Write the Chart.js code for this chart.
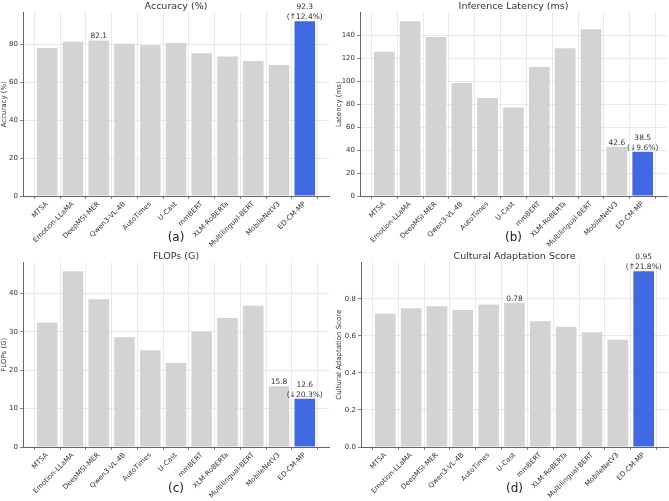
<!DOCTYPE html>
<html>
<head>
<meta charset="utf-8">
<script src="https://cdn.jsdelivr.net/npm/chart.js@4/dist/chart.umd.min.js"></script>
<style>
body { margin: 0; background: #fff; width: 669px; height: 501px; position: relative; overflow: hidden; }
.panel { position: absolute; }
</style>
</head>
<body>
<div class="panel" style="left:0;top:0;width:334px;height:250px"><canvas id="c0"></canvas></div>
<div class="panel" style="left:335px;top:0;width:334px;height:250px"><canvas id="c1"></canvas></div>
<div class="panel" style="left:0;top:250px;width:334px;height:251px"><canvas id="c2"></canvas></div>
<div class="panel" style="left:335px;top:250px;width:334px;height:251px"><canvas id="c3"></canvas></div>
<script>
const models = ['MTSA', 'Emotion-LLaMA', 'DeepMSI-MER', 'Qwen3-VL-4B', 'AutoTimes', 'U-Cast', 'mmBERT', 'XLM-RoBERTa', 'Multilingual-BERT', 'MobileNetV3', 'ED-CM-MP']
const accuracy = [78.1, 81.4, 82.1, 80.4, 79.6, 80.7, 75.4, 73.6, 71.2, 69.1, 92.3]
const latency = [125.6, 152.2, 138.5, 98.3, 85.2, 77.0, 112.3, 128.6, 145.2, 42.6, 38.5]
const flops = [32.4, 45.8, 38.5, 28.6, 25.2, 21.9, 30.1, 33.6, 36.8, 15.8, 12.6]
const cultural = [0.72, 0.75, 0.76, 0.74, 0.77, 0.78, 0.68, 0.65, 0.62, 0.58, 0.95]

const titles = ['Accuracy (%)', 'Inference Latency (ms)', 'FLOPs (G)', 'Cultural Adaptation Score']
const yTitles = ['Accuracy (%)', 'Latency (ms)', 'FLOPs (G)', 'Cultural Adaptation Score']
const tags = ['(a)', '(b)', '(c)', '(d)']
const yStep = [20, 20, 10, 0.2]
const decimals = [1, 1, 1, 2]
const bestBaseline = [2, 9, 9, 5]   // index of the best competing model
const changes = ['↑12.4%', '↓9.6%', '↓20.3%', '↑21.8%']

const series = [accuracy, latency, flops, cultural]
// hand tuned so the plot boxes sit where the reference has them
const yWidth = [23, 25, 23, 26]
const padRight = [5, 2, 5, 1]

const gray = '#d3d3d3'
const blue = '#4169e1'
const textColor = '#333'
const axisColor = '#666'
const font = '"DejaVu Sans", sans-serif'

const notes = {
    id: 'notes',
    afterDraw(chart, args, opts) {
        const ctx = chart.ctx
        const bars = chart.getDatasetMeta(0).data
        ctx.save()
        ctx.font = '7.5px ' + font
        ctx.fillStyle = textColor
        ctx.textAlign = 'center'
        ctx.textBaseline = 'alphabetic'
        let b = bars[opts.best]
        ctx.fillText(opts.bestText, b.x, b.y - 2)
        b = bars[bars.length - 1]
        ctx.fillText(opts.ourText, b.x, b.y - 12)
        ctx.fillText('(' + opts.change + ')', b.x, b.y - 2)
        ctx.restore()
    }
}

series.forEach((vals, k) => {
    const top = Math.max(...vals) * 1.05
    const pts = vals.map((v, i) => ({x: i, y: v}))
    const colors = vals.map((v, i) => i == vals.length - 1 ? blue : gray)
    new Chart(document.getElementById('c' + k), {
        type: 'bar',
        data: {
            datasets: [{
                data: pts,
                backgroundColor: colors,
                borderWidth: 0,
                barPercentage: 0.8,
                categoryPercentage: 1
            }]
        },
        plugins: [notes],
        options: {
            responsive: true,
            maintainAspectRatio: false,
            animation: false,
            layout: { padding: { left: 0, right: padRight[k], top: 0, bottom: 0 } },
            plugins: {
                legend: { display: false },
                tooltip: { enabled: false },
                title: {
                    display: true,
                    text: titles[k],
                    fullSize: false,
                    color: textColor,
                    font: { family: font, size: 9.5, weight: 'normal' },
                    padding: { top: 1, bottom: 0 }
                },
                notes: {
                    best: bestBaseline[k],
                    bestText: vals[bestBaseline[k]].toFixed(decimals[k]),
                    ourText: vals[vals.length - 1].toFixed(decimals[k]),
                    change: changes[k]
                }
            },
            scales: {
                x: {
                    type: 'linear',
                    min: -0.94,
                    max: vals.length - 1 + 0.94,
                    offset: false,
                    z: 1,
                    afterBuildTicks: s => { s.ticks = models.map((m, i) => ({value: i})) },
                    afterFit: s => { s.height = 54 },
                    ticks: {
                        autoSkip: false,
                        maxRotation: 45,
                        minRotation: 45,
                        padding: 1,
                        color: textColor,
                        font: { family: font, size: 7 },
                        callback: v => models[v]
                    },
                    grid: { color: 'rgba(150,150,150,0.25)', lineWidth: 0.8, tickLength: 3, tickColor: axisColor },
                    border: { display: true, color: axisColor, width: 1 },
                    title: {
                        display: true,
                        text: tags[k],
                        color: '#222',
                        font: { family: font, size: 12 },
                        padding: { top: 0, bottom: 5 }
                    }
                },
                y: {
                    min: 0,
                    max: top,
                    z: 1,
                    afterBuildTicks: s => {
                        let t = []
                        for (let n = 0; n * yStep[k] <= top; n++) t.push({value: +(n * yStep[k]).toFixed(2)})
                        s.ticks = t
                    },
                    afterFit: s => { s.width = yWidth[k] },
                    ticks: {
                        padding: 2,
                        color: textColor,
                        font: { family: font, size: 7 },
                        callback: v => k == 3 ? v.toFixed(1) : v
                    },
                    grid: { color: 'rgba(150,150,150,0.25)', lineWidth: 0.8, tickLength: 3, tickColor: axisColor },
                    border: { display: true, color: axisColor, width: 1 },
                    title: {
                        display: true,
                        text: yTitles[k],
                        color: textColor,
                        font: { family: font, size: 7 },
                        padding: { top: 0, bottom: 0, left: 1 }
                    }
                }
            }
        }
    })
})
</script>
</body>
</html>
